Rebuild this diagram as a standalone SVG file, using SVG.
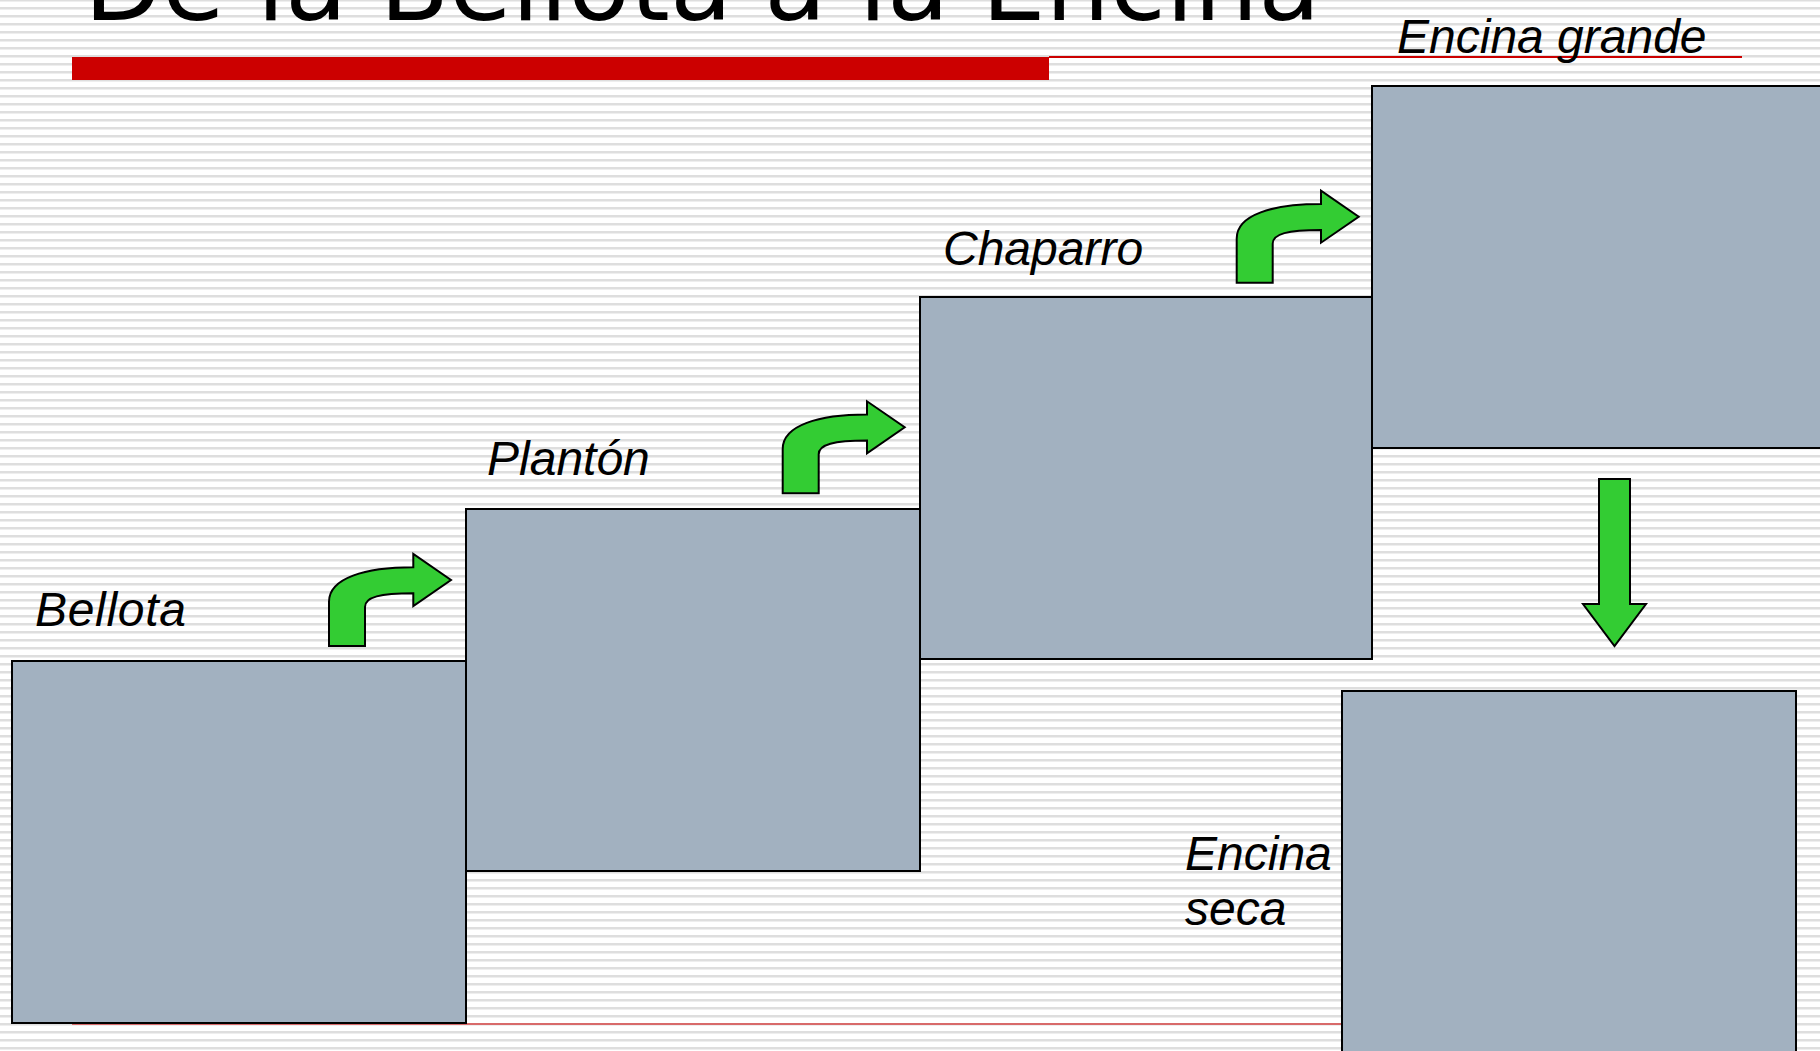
<svg xmlns="http://www.w3.org/2000/svg" xmlns:xlink="http://www.w3.org/1999/xlink" width="1820" height="1051" viewBox="0 0 1820 1051">
<defs>
<pattern id="bg" x="0" y="-1" width="8" height="8" patternUnits="userSpaceOnUse">
<rect x="0" y="0" width="8" height="8" fill="#ffffff"/>
<rect x="0" y="0" width="8" height="2" fill="#dedede"/>
<rect x="0" y="2" width="8" height="1" fill="#eeeeee"/>
</pattern>
<path id="bent" d="M0,0 L0,-44.3 C0,-68 36,-78.7 84.3,-78.7 L84.3,-92 L122,-66 L84.3,-40 L84.3,-52.7 C51,-52.7 36,-49 36,-39 L36,0 Z"/>
<style>
.box{fill:#a2b1c0;stroke:#000;stroke-width:2}
.arr{fill:#33cc33;stroke:#000;stroke-width:2;stroke-linejoin:miter}
.lbl{font-family:"Liberation Sans",Arial,sans-serif;font-style:italic;font-size:48px;fill:#000}
.title{font-family:"DejaVu Sans",Verdana,sans-serif;font-size:101.5px;fill:#000}
</style>
</defs>
<rect width="1820" height="1051" fill="url(#bg)"/>
<text class="title" x="84" y="20">De la Bellota a la Encina</text>
<rect x="72" y="57" width="977" height="23" fill="#cc0000"/>
<line x1="1049" y1="57" x2="1742" y2="57" stroke="#cc0000" stroke-width="2"/>
<line x1="72" y1="1024" x2="1342" y2="1024" stroke="#d86a6a" stroke-width="2"/>
<g id="node-bellota">
<rect class="box" x="12" y="661" width="454" height="362"/>
<text class="lbl" x="35" y="626" textLength="151">Bellota</text>
</g>
<g id="node-planton">
<rect class="box" x="466" y="509" width="454" height="362"/>
<text class="lbl" x="487" y="475">Plantón</text>
</g>
<g id="node-chaparro">
<rect class="box" x="920" y="297" width="452" height="362"/>
<text class="lbl" x="943" y="265">Chaparro</text>
</g>
<g id="node-encina-grande">
<rect class="box" x="1372" y="86" width="460" height="362"/>
<text class="lbl" x="1397" y="53">Encina grande</text>
</g>
<g id="node-encina-seca">
<rect class="box" x="1342" y="691" width="454" height="400"/>
<text class="lbl" x="1185" y="870">Encina</text>
<text class="lbl" x="1185" y="925">seca</text>
</g>
<g id="connectors">
<use xlink:href="#bent" class="arr" transform="translate(329,646)"/>
<use xlink:href="#bent" class="arr" transform="translate(782.7,493.3)"/>
<use xlink:href="#bent" class="arr" transform="translate(1236.7,282.7)"/>
<polygon class="arr" points="1599,479 1630,479 1630,604 1646,604 1614.5,646 1583,604 1599,604"/>
</g>
</svg>
